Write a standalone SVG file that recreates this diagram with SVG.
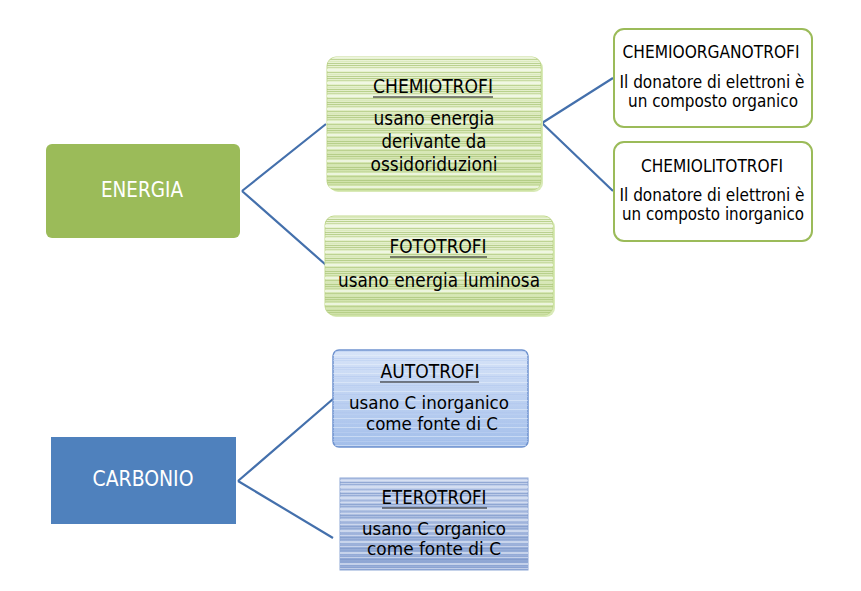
<svg xmlns="http://www.w3.org/2000/svg" width="861" height="591" viewBox="0 0 861 591">
<defs>
<style>
.t{font-family:"DejaVu Sans Condensed","DejaVu Sans",sans-serif;font-stretch:condensed;fill:#000;text-anchor:middle}
.s19{font-size:20px}
.s17{font-size:18px}
.s18{font-size:18px}
.w{fill:#fff;font-size:21px}
.u{stroke:#111;stroke-width:1.2}
.conn{stroke:#4470AC;stroke-width:2.2;fill:none}
.ob{fill:#fff;stroke:#9BBB59;stroke-width:2}
</style>
<linearGradient id="gG" x1="0" y1="0" x2="0" y2="1">
<stop offset="0" stop-color="#EAF3D6"/>
<stop offset="1" stop-color="#CFE2A8"/>
</linearGradient>
<pattern id="pG" patternUnits="userSpaceOnUse" width="20" height="13">
<rect y="0" width="20" height="1" fill="#B2CB82" opacity="0.85"/>
<rect y="2" width="20" height="1" fill="#C4D99C" opacity="0.85"/>
<rect y="4" width="20" height="2" fill="#F3F9E8" opacity="0.8"/>
<rect y="7" width="20" height="1" fill="#B8CF8A" opacity="0.85"/>
<rect y="9" width="20" height="1" fill="#D7E7B8" opacity="0.8"/>
<rect y="11" width="20" height="1" fill="#ABC57A" opacity="0.75"/>
</pattern>
<linearGradient id="gB" x1="0" y1="0" x2="0" y2="1">
<stop offset="0" stop-color="#D8E4F8"/>
<stop offset="1" stop-color="#A2BEEA"/>
</linearGradient>
<pattern id="pB" patternUnits="userSpaceOnUse" width="20" height="9">
<rect y="0" width="20" height="1" fill="#BCD0F2" opacity="0.6"/>
<rect y="4" width="20" height="1" fill="#EAF1FC" opacity="0.5"/>
<rect y="7" width="20" height="1" fill="#AFC6EE" opacity="0.5"/>
</pattern>
<linearGradient id="gE" x1="0" y1="0" x2="0" y2="1">
<stop offset="0" stop-color="#C6D3EC"/>
<stop offset="1" stop-color="#8AA3D2"/>
</linearGradient>
<pattern id="pE" patternUnits="userSpaceOnUse" width="20" height="11">
<rect y="0" width="20" height="1" fill="#8FA6D3" opacity="0.8"/>
<rect y="2" width="20" height="2" fill="#DCE4F4" opacity="0.7"/>
<rect y="5" width="20" height="1" fill="#9DB2DB" opacity="0.8"/>
<rect y="7" width="20" height="1" fill="#E4EAF6" opacity="0.6"/>
<rect y="9" width="20" height="1" fill="#7F99CB" opacity="0.7"/>
</pattern>
</defs>

<g id="connectors">
<path class="conn" d="M242,191 L326,124 M242,191 L326,265"/>
<path class="conn" d="M542,123 L613,78 M542,123 L613,191"/>
<path class="conn" d="M238,481 L333,399 M238,481 L333,538"/>
</g>

<g id="energia">
<rect x="46" y="144" width="194" height="94" rx="6" fill="#9BBB59"/>
<text class="t w" x="142" y="197" textLength="82" lengthAdjust="spacingAndGlyphs">ENERGIA</text>
</g>

<g id="carbonio">
<rect x="51" y="437" width="185" height="87" fill="#4F81BD"/>
<text class="t w" x="143" y="486" textLength="101" lengthAdjust="spacingAndGlyphs">CARBONIO</text>
</g>

<g id="chemiotrofi">
<rect x="329" y="59" width="214" height="133" rx="9" fill="#D9EAB8"/>
<rect x="327" y="57" width="214" height="133" rx="9" fill="url(#gG)" stroke="#C2D98E" stroke-width="1"/>
<rect x="327" y="57" width="214" height="133" rx="9" fill="url(#pG)"/>
<text class="t s19" x="433" y="93" textLength="120" lengthAdjust="spacingAndGlyphs">CHEMIOTROFI</text>
<line class="u" x1="373" y1="97" x2="493" y2="97"/>
<text class="t s19" x="434" y="125" textLength="121" lengthAdjust="spacingAndGlyphs">usano energia</text>
<text class="t s19" x="434" y="148" textLength="105" lengthAdjust="spacingAndGlyphs">derivante da</text>
<text class="t s19" x="434" y="171" textLength="127" lengthAdjust="spacingAndGlyphs">ossidoriduzioni</text>
</g>

<g id="fototrofi">
<rect x="327" y="218" width="228" height="99" rx="9" fill="#D9EAB8"/>
<rect x="325" y="216" width="228" height="99" rx="9" fill="url(#gG)" stroke="#C2D98E" stroke-width="1"/>
<rect x="325" y="216" width="228" height="99" rx="9" fill="url(#pG)"/>
<text class="t s19" x="438" y="253" textLength="97" lengthAdjust="spacingAndGlyphs">FOTOTROFI</text>
<line class="u" x1="390" y1="257" x2="487" y2="257"/>
<text class="t s19" x="439" y="287" textLength="202" lengthAdjust="spacingAndGlyphs">usano energia luminosa</text>
</g>

<g id="chemioorganotrofi">
<rect class="ob" x="614" y="29" width="198" height="98" rx="10"/>
<text class="t s18" x="711" y="58" textLength="177" lengthAdjust="spacingAndGlyphs">CHEMIOORGANOTROFI</text>
<text class="t s18" x="712" y="88" textLength="185" lengthAdjust="spacingAndGlyphs">Il donatore di elettroni è</text>
<text class="t s18" x="713" y="107" textLength="170" lengthAdjust="spacingAndGlyphs">un composto organico</text>
</g>

<g id="chemiolitotrofi">
<rect class="ob" x="614" y="142" width="198" height="99" rx="10"/>
<text class="t s18" x="712" y="172" textLength="142" lengthAdjust="spacingAndGlyphs">CHEMIOLITOTROFI</text>
<text class="t s18" x="712" y="201" textLength="185" lengthAdjust="spacingAndGlyphs">Il donatore di elettroni è</text>
<text class="t s18" x="713" y="220" textLength="182" lengthAdjust="spacingAndGlyphs">un composto inorganico</text>
</g>

<g id="autotrofi">
<rect x="333" y="350" width="195" height="97" rx="6" fill="url(#gB)" stroke="#6F93CF" stroke-width="1.5"/>
<rect x="333" y="350" width="195" height="97" rx="6" fill="url(#pB)"/>
<text class="t s19" x="430" y="378" textLength="99" lengthAdjust="spacingAndGlyphs">AUTOTROFI</text>
<line class="u" x1="380" y1="382" x2="479" y2="382"/>
<text class="t s17" x="429" y="409" textLength="160" lengthAdjust="spacingAndGlyphs">usano C inorganico</text>
<text class="t s17" x="432" y="430" textLength="132" lengthAdjust="spacingAndGlyphs">come fonte di C</text>
</g>

<g id="eterotrofi">
<rect x="340" y="478" width="188" height="92" fill="url(#gE)" stroke="#8EA7D5" stroke-width="1"/>
<rect x="340" y="478" width="188" height="92" fill="url(#pE)"/>
<text class="t s19" x="434" y="504" textLength="105" lengthAdjust="spacingAndGlyphs">ETEROTROFI</text>
<line class="u" x1="382" y1="508" x2="487" y2="508"/>
<text class="t s17" x="434" y="535" textLength="144" lengthAdjust="spacingAndGlyphs">usano C organico</text>
<text class="t s17" x="434" y="555" textLength="134" lengthAdjust="spacingAndGlyphs">come fonte di C</text>
</g>
</svg>
